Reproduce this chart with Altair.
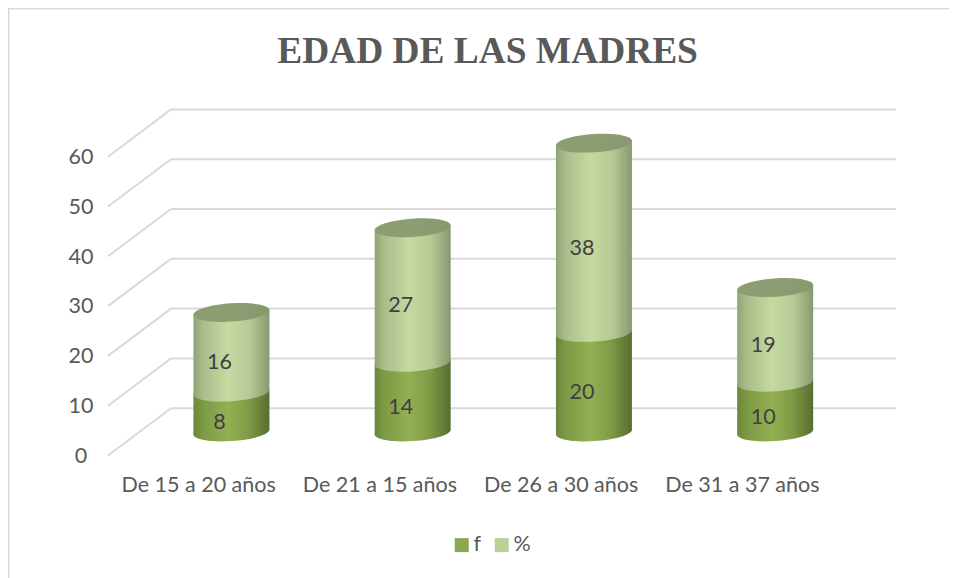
import altair as alt
import pandas as pd

chart_title = "EDAD DE LAS MADRES"
categories = ["De 15 a 20 años", "De 21 a 15 años", "De 26 a 30 años", "De 31 a 37 años"]
f_values = [8, 14, 20, 10]
pct_values = [16, 27, 38, 19]
series = ["f", "%"]
y_ticks = [0, 10, 20, 30, 40, 50, 60]

# oblique projection, in data units: x in category slots, y in chart values
DEPTH_X, DEPTH_Y = 0.3476, 9.5
MID_X, MID_Y = 0.181, 4.72
LABEL_X, LABEL_Y = 0.115, 2.5
HALF_W = 0.2096
TILT = 0.5
X_DOM = [-0.5517, 4.64]
Y_DOM = [-24.6, 89.86]

W, H = 941, 570
FONT = "Lato"
FS = 21.5
GRAY = "#595959"
GRID = "#D9D9D9"

x_scale = alt.Scale(domain=X_DOM, nice=False, zero=False)
y_scale = alt.Scale(domain=Y_DOM, nice=False, zero=False)
X = lambda f="x": alt.X(f"{f}:Q", scale=x_scale, axis=None, title=None)
Y = lambda f="y": alt.Y(f"{f}:Q", scale=y_scale, axis=None, title=None)


def grad(stops):
    return alt.Gradient(gradient="linear", x1=0, x2=1, y1=0, y2=0,
                        stops=[alt.GradientStop(offset=o, color=c) for o, c in stops])


grad_f = grad([(0, "#6B863A"), (0.12, "#7C9944"), (0.45, "#94B054"), (0.72, "#7F9B46"), (1, "#566E2E")])
grad_p = grad([(0, "#8FA474"), (0.12, "#A8BD8A"), (0.45, "#C5D9A0"), (0.75, "#B6C994"), (1, "#879870")])
grad_t = grad([(0, "#8B9E70"), (0.5, "#8C9E72"), (1, "#87986E")])

ELLIPSE = "M-1,0.066A1,0.24,-3.8,1,1,1,-0.066A1,0.24,-3.8,1,1,-1,0.066Z"
ELL_SIZE = 5776

# ---- data tables
back = pd.DataFrame({"x": [DEPTH_X] * 7, "x2": [4 + DEPTH_X] * 7,
                     "y": [v + DEPTH_Y for v in y_ticks]})
side = pd.DataFrame({"x": [0] * 7, "x2": [DEPTH_X] * 7, "y": y_ticks,
                     "y2": [v + DEPTH_Y for v in y_ticks]})
tick_df = pd.DataFrame({"x": [-0.149] * 7, "y": [v - 0.25 for v in y_ticks], "t": [str(v) for v in y_ticks]})

bodies, rings, labels = [], [], []
for i, c in enumerate(categories):
    cx = i + 0.5 + MID_X
    low = 0
    for s, v in zip(series, (f_values[i], pct_values[i])):
        high = low + v
        for side_x, t in ((cx - HALF_W, -TILT), (cx + HALF_W, TILT)):
            bodies.append({"cat": c, "s": s, "x": side_x,
                           "y": low + MID_Y + t, "y2": high + MID_Y + t})
        rings.append({"cat": c, "s": s, "x": cx, "y": low + MID_Y, "top": high + MID_Y})
        labels.append({"x": i + 0.5 + LABEL_X, "y": (low + high) / 2 + LABEL_Y, "t": str(v)})
        low = high
bodies = pd.DataFrame(bodies)
rings = pd.DataFrame(rings)
labels = pd.DataFrame(labels)
cat_df = pd.DataFrame({"x": [i + 0.5 for i in range(4)], "cat": categories, "y": -6.2})
frame = pd.DataFrame({"x": [X_DOM[0]], "x2": [X_DOM[1]], "y": [Y_DOM[1]], "y2": [Y_DOM[0]]})
title_df = pd.DataFrame({"x": [2.094], "y": [81.1], "t": [chart_title]})

# ---- layers
grid_back = alt.Chart(back).mark_rule(color=GRID, strokeWidth=2).encode(X(), alt.X2("x2:Q"), Y())
grid_side = alt.Chart(side).mark_rule(color=GRID, strokeWidth=2).encode(X(), alt.X2("x2:Q"), Y(), alt.Y2("y2:Q"))
frame_top = alt.Chart(frame).mark_rule(color=GRID, strokeWidth=3).encode(X(), alt.X2("x2:Q"), Y())
frame_left = alt.Chart(frame).mark_rule(color=GRID, strokeWidth=3).encode(X(), Y(), alt.Y2("y2:Q"))


def ell(df, gradient, field="y"):
    return alt.Chart(df).mark_point(shape=ELLIPSE, size=ELL_SIZE, filled=True, fill=gradient,
                                    opacity=1, strokeWidth=0).encode(X(), Y(field))


def body(df, gradient):
    return alt.Chart(df).mark_area(fill=gradient, opacity=1, orient="vertical").encode(
        X(), Y(), alt.Y2("y2:Q"), detail="cat:N")


rf, rp = rings[rings.s == "f"], rings[rings.s == "%"]
bf, bp = bodies[bodies.s == "f"], bodies[bodies.s == "%"]

tick_labels = alt.Chart(tick_df).mark_text(font=FONT, fontSize=FS, color=GRAY).encode(
    X(), Y(), text="t:N")
bar_labels = alt.Chart(labels).mark_text(font=FONT, fontSize=FS, color="#404040").encode(
    X(), Y(), text="t:N")
cat_labels = alt.Chart(cat_df).mark_text(font=FONT, fontSize=FS, color=GRAY).encode(
    X(), Y(), text="cat:N")
title_mark = alt.Chart(title_df).mark_text(font="Liberation Serif", fontSize=37.4, fontWeight="bold",
                                           color=GRAY).encode(X(), Y(), text="t:N")

legend_layer = alt.Chart(pd.DataFrame({"s": series})).mark_point(size=0, filled=True).encode(
    x=alt.value(-50), y=alt.value(-50),
    color=alt.Color("s:N", scale=alt.Scale(domain=series, range=["#8CA84E", "#BAD096"]),
                    legend=alt.Legend(title=None, orient="none", legendX=443, legendY=526,
                                      direction="horizontal", symbolType="square", symbolSize=196,
                                      symbolOpacity=1, symbolStrokeWidth=0, labelFont=FONT,
                                      labelFontSize=FS, labelColor=GRAY, columnPadding=9,
                                      labelOffset=1)),
)

chart = alt.layer(
    frame_top, frame_left, grid_back, grid_side, tick_labels, cat_labels, title_mark,
    ell(rf, grad_f), body(bf, grad_f),
    ell(rp, grad_p), body(bp, grad_p),
    ell(rp, grad_t, "top"),
    bar_labels, legend_layer,
).properties(
    width=W, height=H, padding=0, background="white",
    autosize=alt.AutoSizeParams(type="none"),
).configure_view(stroke=None)

chart.save("out.html", embed_options={"renderer": "svg", "actions": False})
